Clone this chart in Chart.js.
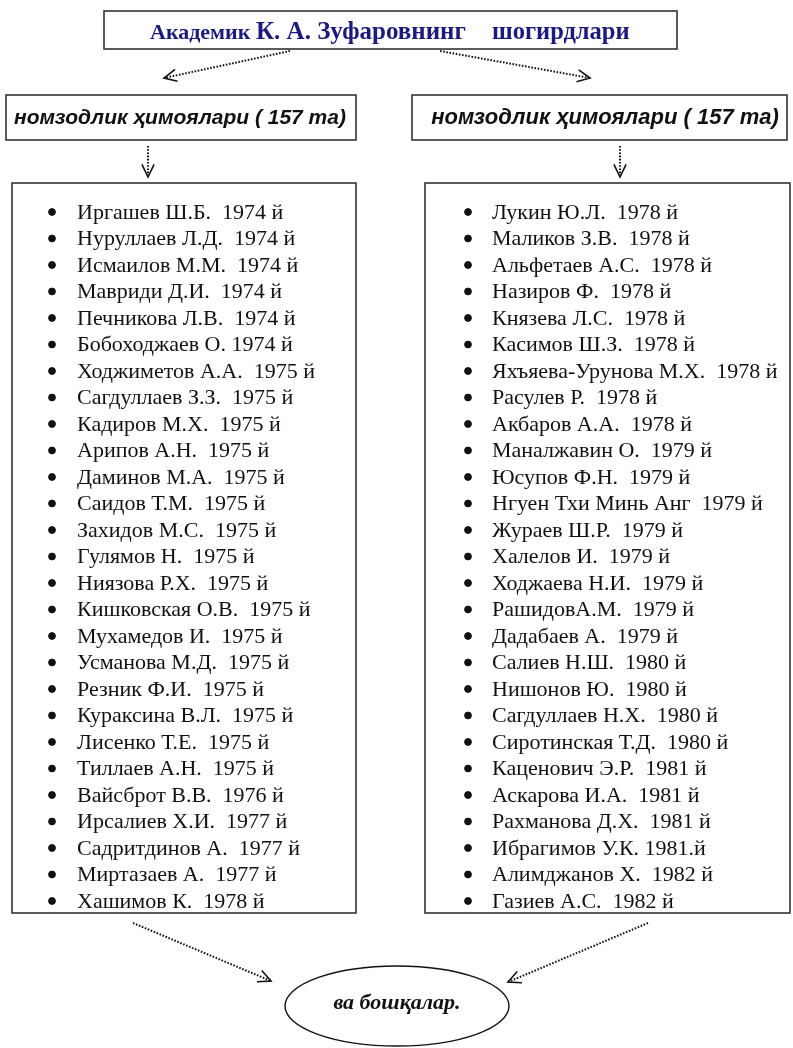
<!DOCTYPE html>
<html>
<head>
<meta charset="utf-8">
<script src="https://cdn.jsdelivr.net/npm/chart.js@4"></script>
<style>
  html, body { margin: 0; padding: 0; background: #fff; }
  #schema { display: block; }
</style>
</head>
<body>
<canvas id="schema" width="793" height="1048"></canvas>
<script>
// sarlavha va bloklar matni
const titleParts = ['Академик ', 'К. А. Зуфаровнинг', 'шогирдлари'];
const subTitles = ['номзодлик ҳимоялари ( 157 та)', 'номзодлик ҳимоялари ( 157 та)'];
const footerText = 'ва бошқалар.';

// shogirdlar ro'yxati (chap ustun)
const leftList = [
  'Иргашев Ш.Б.  1974 й', 'Нуруллаев Л.Д.  1974 й', 'Исмаилов М.М.  1974 й',
  'Мавриди Д.И.  1974 й', 'Печникова Л.В.  1974 й', 'Бобоходжаев О. 1974 й',
  'Ходжиметов А.А.  1975 й', 'Сагдуллаев З.З.  1975 й', 'Кадиров М.Х.  1975 й',
  'Арипов А.Н.  1975 й', 'Даминов М.А.  1975 й', 'Саидов Т.М.  1975 й',
  'Захидов М.С.  1975 й', 'Гулямов Н.  1975 й', 'Ниязова Р.Х.  1975 й',
  'Кишковская О.В.  1975 й', 'Мухамедов И.  1975 й', 'Усманова М.Д.  1975 й',
  'Резник Ф.И.  1975 й', 'Кураксина В.Л.  1975 й', 'Лисенко Т.Е.  1975 й',
  'Тиллаев А.Н.  1975 й', 'Вайсброт В.В.  1976 й', 'Ирсалиев Х.И.  1977 й',
  'Садритдинов А.  1977 й', 'Миртазаев А.  1977 й', 'Хашимов К.  1978 й'
];

// o'ng ustun
const rightList = [
  'Лукин Ю.Л.  1978 й', 'Маликов З.В.  1978 й', 'Альфетаев А.С.  1978 й',
  'Назиров Ф.  1978 й', 'Князева Л.С.  1978 й', 'Касимов Ш.З.  1978 й',
  'Яхъяева-Урунова М.Х.  1978 й', 'Расулев Р.  1978 й', 'Акбаров А.А.  1978 й',
  'Маналжавин О.  1979 й', 'Юсупов Ф.Н.  1979 й', 'Нгуен Тхи Минь Анг  1979 й',
  'Жураев Ш.Р.  1979 й', 'Халелов И.  1979 й', 'Ходжаева Н.И.  1979 й',
  'РашидовА.М.  1979 й', 'Дадабаев А.  1979 й', 'Салиев Н.Ш.  1980 й',
  'Нишонов Ю.  1980 й', 'Сагдуллаев Н.Х.  1980 й', 'Сиротинская Т.Д.  1980 й',
  'Каценович Э.Р.  1981 й', 'Аскарова И.А.  1981 й', 'Рахманова Д.Х.  1981 й',
  'Ибрагимов У.К. 1981.й', 'Алимджанов Х.  1982 й', 'Газиев А.С.  1982 й'
];

const ROW0 = 212, ROW_STEP = 26.5;
const rowY = i => ROW0 + i * ROW_STEP;

function dotted(ctx, x1, y1, x2, y2) {
  ctx.save();
  ctx.strokeStyle = '#111';
  ctx.lineWidth = 2;
  ctx.setLineDash([1.6, 1.6]);
  ctx.beginPath();
  ctx.moveTo(x1, y1);
  ctx.lineTo(x2, y2);
  ctx.stroke();
  ctx.restore();
}

function chevron(ctx, x1, y1, x2, y2, size) {
  const a = Math.atan2(y2 - y1, x2 - x1);
  ctx.save();
  ctx.strokeStyle = '#111';
  ctx.lineWidth = 1.6;
  ctx.setLineDash([]);
  ctx.beginPath();
  ctx.moveTo(x2 - size * Math.cos(a - 0.45), y2 - size * Math.sin(a - 0.45));
  ctx.lineTo(x2, y2);
  ctx.lineTo(x2 - size * Math.cos(a + 0.45), y2 - size * Math.sin(a + 0.45));
  ctx.stroke();
  ctx.restore();
}

function arrow(ctx, x1, y1, x2, y2) {
  dotted(ctx, x1, y1, x2, y2);
  chevron(ctx, x1, y1, x2, y2, 14);
}

function box(ctx, x1, y1, x2, y2) {
  ctx.save();
  ctx.strokeStyle = '#333';
  ctx.lineWidth = 1.6;
  ctx.strokeRect(x1, y1, x2 - x1, y2 - y1);
  ctx.restore();
}

const schemaPlugin = {
  id: 'schema',
  beforeDraw(chart) {
    const ctx = chart.ctx;
    ctx.save();
    ctx.fillStyle = '#fff';
    ctx.fillRect(0, 0, chart.width, chart.height);
    ctx.restore();
  },
  afterDatasetsDraw(chart) {
    const ctx = chart.ctx;
    const X = v => chart.scales.x.getPixelForValue(v);
    const Y = v => chart.scales.y.getPixelForValue(v);

    // yuqori sarlavha
    box(ctx, X(104), Y(11), X(677), Y(49));
    ctx.save();
    ctx.fillStyle = '#1b1b7c';
    ctx.textBaseline = 'alphabetic';
    let tx = X(150);
    ctx.font = 'bold 22px "Liberation Serif"';
    ctx.fillText(titleParts[0], tx, Y(39));
    tx += ctx.measureText(titleParts[0]).width;
    ctx.font = 'bold 25px "Liberation Serif"';
    ctx.fillText(titleParts[1], tx, Y(39));
    ctx.font = 'bold 24.5px "Liberation Serif"';
    ctx.fillText(titleParts[2], X(492), Y(39));
    ctx.restore();

    arrow(ctx, X(290), Y(51), X(164), Y(78));
    arrow(ctx, X(440), Y(51), X(590), Y(78));

    // ikkinchi qator bloklar
    box(ctx, X(6), Y(95), X(356), Y(140));
    box(ctx, X(412), Y(95), X(787), Y(140));
    ctx.save();
    ctx.fillStyle = '#111';
    ctx.textBaseline = 'middle';
    ctx.textAlign = 'center';
    ctx.font = 'italic bold 21px "Liberation Sans"';
    ctx.fillText(subTitles[0], X(180), Y(118));
    ctx.font = 'italic bold 22px "Liberation Sans"';
    ctx.fillText(subTitles[1], X(605), Y(118));
    ctx.restore();

    arrow(ctx, X(148), Y(146), X(148), Y(177));
    arrow(ctx, X(620), Y(146), X(620), Y(177));

    // ro'yxat bloklari
    box(ctx, X(12), Y(183), X(356), Y(913));
    box(ctx, X(425), Y(183), X(790), Y(913));
    ctx.save();
    ctx.fillStyle = '#111';
    ctx.font = '22px "Liberation Serif"';
    ctx.textBaseline = 'middle';
    leftList.forEach((s, i) => ctx.fillText(s, X(77), Y(rowY(i)) + 1));
    rightList.forEach((s, i) => ctx.fillText(s, X(492), Y(rowY(i)) + 1));
    ctx.restore();

    // pastki strelkalar va oval
    arrow(ctx, X(133), Y(923), X(271), Y(981));
    arrow(ctx, X(648), Y(923), X(508), Y(982));

    ctx.save();
    ctx.strokeStyle = '#111';
    ctx.lineWidth = 1.4;
    ctx.beginPath();
    ctx.ellipse(X(397), Y(1006), 112, 40, 0, 0, Math.PI * 2);
    ctx.stroke();
    ctx.fillStyle = '#111';
    ctx.font = 'italic bold 22px "Liberation Serif"';
    ctx.textAlign = 'center';
    ctx.textBaseline = 'middle';
    ctx.fillText(footerText, X(397), Y(1003));
    ctx.restore();
  }
};

const ctx = document.getElementById('schema').getContext('2d');
const chart = new Chart(ctx, {
  type: 'scatter',
  data: {
    datasets: [
      {
        label: 'chap',
        data: leftList.map((_, i) => ({ x: 52, y: rowY(i) })),
        backgroundColor: '#111',
        borderColor: '#111',
        pointRadius: 3.4
      },
      {
        label: "o'ng",
        data: rightList.map((_, i) => ({ x: 468, y: rowY(i) })),
        backgroundColor: '#111',
        borderColor: '#111',
        pointRadius: 3.4
      }
    ]
  },
  options: {
    responsive: false,
    animation: false,
    layout: { padding: 0, autoPadding: false },
    plugins: { legend: { display: false }, tooltip: { enabled: false } },
    scales: {
      x: { type: 'linear', min: 0, max: 793, display: false },
      y: { type: 'linear', min: 0, max: 1048, reverse: true, display: false }
    }
  },
  plugins: [schemaPlugin]
});
</script>
</body>
</html>
